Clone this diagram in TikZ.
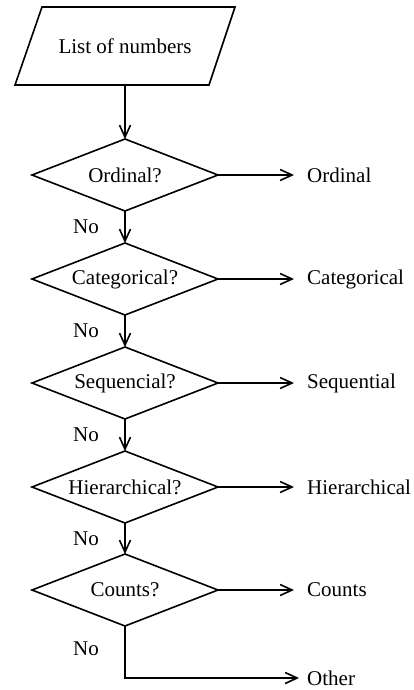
\documentclass[tikz,border=0pt]{standalone}
\usepackage{fontspec}
\setmainfont{Liberation Serif}
\usetikzlibrary{shapes.geometric,arrows.meta}
\begin{document}
\begin{tikzpicture}[x=1pt,y=-1pt,
  every node/.style={font=\fontsize{21}{25}\selectfont},
  line/.style={line width=1.6pt, line join=miter},
  conn/.style={line width=1.6pt, -{Straight Barb[length=12pt,width=11pt,line width=1.6pt]}},
  decision/.style={diamond, draw, line width=1.6pt, inner sep=0pt, outer sep=0pt, aspect=2.583, minimum width=186pt, minimum height=72pt},
  outlabel/.style={anchor=west, inner sep=3pt},
  nolabel/.style={inner sep=0pt}]
\useasboundingbox (0,0) rectangle (414,690);
% input parallelogram
\coordinate (p1) at (42,7);
\coordinate (p2) at (235,7);
\coordinate (p3) at (209,85);
\coordinate (p4) at (15,85);
\draw[line] (p1) -- (p2) -- (p3) -- (p4) -- cycle;
\node (list) at (125,46) {List of numbers};
\coordinate (lb) at (125,85);
% decisions
\node[decision] (d1) at (125,175) {Ordinal?};
\node[decision] (d2) at (125,279) {Categorical?};
\node[decision] (d3) at (125,383) {Sequencial?};
\node[decision] (d4) at (125,487) {Hierarchical?};
\node[decision] (d5) at (125,590) {Counts?};
% outputs
\node[outlabel] (o1) at (304,175) {Ordinal};
\node[outlabel] (o2) at (304,279) {Categorical};
\node[outlabel] (o3) at (304,383) {Sequential};
\node[outlabel] (o4) at (304,487) {Hierarchical};
\node[outlabel] (o5) at (304,590) {Counts};
\node[outlabel] (o6) at (304,678) {Other};
% No labels
\node[nolabel] (n1) at (86,227) {No};
\node[nolabel] (n2) at (86,331) {No};
\node[nolabel] (n3) at (86,435) {No};
\node[nolabel] (n4) at (86,539) {No};
\node[nolabel] (n5) at (86,649) {No};
% connectors
\draw[conn] (lb) -- (d1.north);
\draw[conn] (d1.south) -- (d2.north);
\draw[conn] (d2.south) -- (d3.north);
\draw[conn] (d3.south) -- (d4.north);
\draw[conn] (d4.south) -- (d5.north);
\draw[conn, shorten >=10pt] (d1.east) -- (o1.west);
\draw[conn, shorten >=10pt] (d2.east) -- (o2.west);
\draw[conn, shorten >=10pt] (d3.east) -- (o3.west);
\draw[conn, shorten >=10pt] (d4.east) -- (o4.west);
\draw[conn, shorten >=10pt] (d5.east) -- (o5.west);
\draw[conn, shorten >=5pt] (d5.south) |- (o6.west);
\end{tikzpicture}
\end{document}
